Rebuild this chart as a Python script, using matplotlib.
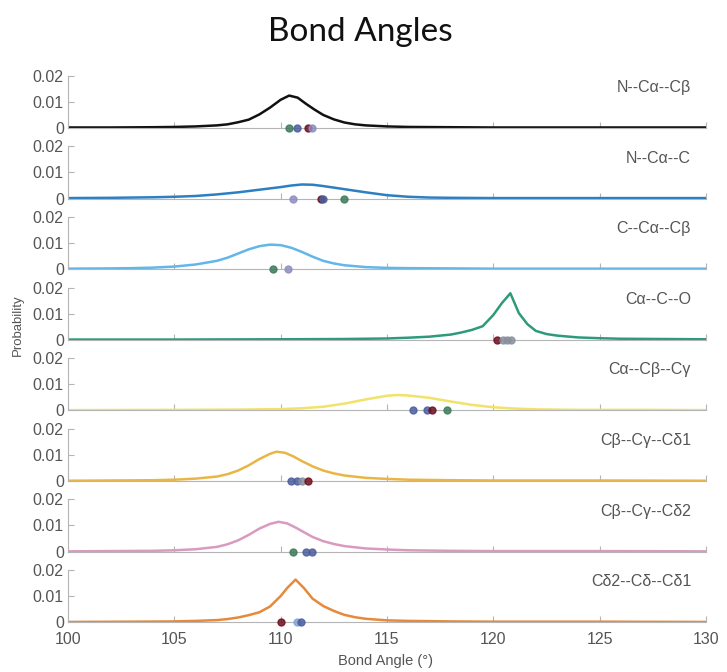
import matplotlib
matplotlib.use("Agg")
from matplotlib import pyplot as plt

plt.rcParams['font.family'] = ['Liberation Sans', 'DejaVu Sans']

labels = ["N--C\u03b1--C\u03b2", "N--C\u03b1--C", "C--C\u03b1--C\u03b2", "C\u03b1--C--O",
          "C\u03b1--C\u03b2--C\u03b3", "C\u03b2--C\u03b3--C\u03b41", "C\u03b2--C\u03b3--C\u03b42",
          "C\u03b42--C\u03b4--C\u03b41"]
line_colors = ["#111111", "#2d7fc1", "#62b6e8", "#2e9a7c", "#f1e26a", "#e9b646", "#d99ac0", "#e68a3a"]

# histogram outlines (angle, probability)
x_ncacb = [100, 102, 104, 105, 106, 106.5, 107, 107.5, 108, 108.5, 109, 109.5, 110, 110.4, 110.8,
           111.2, 111.6, 112, 112.5, 113, 113.5, 114, 115, 116, 118, 120, 125, 130]
y_ncacb = [.0002, .0002, .0003, .0004, .0006, .0008, .0010, .0014, .0022, .0032, .0052, .0078, .0108,
           .0124, .0116, .0092, .0070, .0050, .0033, .0021, .0014, .0010, .0006, .0004, .0003, .0002,
           .0002, .0002]

x_ncac = [100, 102, 104, 105, 106, 107, 108, 109, 110, 110.5, 111, 111.5, 112, 113, 114, 115, 116,
          117, 118, 120, 125, 130]
y_ncac = [.0002, .0003, .0005, .0007, .0010, .0016, .0024, .0034, .0044, .0050, .0054, .0053, .0048,
          .0036, .0024, .0013, .0007, .0004, .0003, .0002, .0002, .0002]

x_ccacb = [100, 102, 103, 104, 105, 106, 107, 107.5, 108, 108.5, 109, 109.5, 110, 110.5, 111, 111.5,
           112, 112.5, 113, 114, 115, 116, 118, 120, 125, 130]
y_ccacb = [.0002, .0003, .0004, .0006, .0010, .0018, .0032, .0044, .0060, .0076, .0088, .0094, .0092,
           .0082, .0066, .0048, .0032, .0022, .0015, .0008, .0005, .0004, .0003, .0002, .0002, .0002]

x_caco = [100, 105, 110, 113, 115, 116, 117, 118, 118.5, 119, 119.5, 120, 120.4, 120.8, 121.2, 121.6,
          122, 122.5, 123, 124, 125, 126, 128, 130]
y_caco = [.0001, .0001, .0002, .0003, .0005, .0008, .0012, .0020, .0028, .0038, .0052, .0095, .0140,
          .0178, .0102, .0060, .0034, .0022, .0016, .0009, .0006, .0004, .0003, .0002]

x_cacbcg = [100, 105, 108, 110, 111, 112, 113, 114, 115, 115.5, 116, 117, 118, 119, 120, 121, 122,
            124, 127, 130]
y_cacbcg = [.0001, .0002, .0003, .0005, .0008, .0014, .0026, .0042, .0056, .0059, .0057, .0048, .0034,
            .0021, .0012, .0007, .0004, .0002, .0002, .0001]

x_cbcgcd1 = [100, 102, 104, 105, 106, 107, 107.5, 108, 108.5, 109, 109.5, 109.8, 110.2, 110.6, 111,
             111.5, 112, 112.5, 113, 114, 115, 116, 118, 120, 125, 130]
y_cbcgcd1 = [.0001, .0002, .0003, .0005, .0009, .0017, .0026, .0040, .0060, .0084, .0104, .0112, .0108,
             .0094, .0076, .0056, .0040, .0029, .0021, .0012, .0008, .0005, .0003, .0002, .0002, .0001]

x_cbcgcd2 = [100, 102, 104, 105, 106, 107, 107.5, 108, 108.5, 109, 109.5, 109.9, 110.3, 110.7, 111.1,
             111.5, 112, 112.5, 113, 114, 115, 116, 118, 120, 125, 130]
y_cbcgcd2 = [.0001, .0002, .0003, .0005, .0009, .0018, .0028, .0043, .0064, .0088, .0106, .0114, .0108,
             .0092, .0074, .0056, .0040, .0029, .0021, .0012, .0008, .0005, .0003, .0002, .0002, .0001]

x_cdcdcd = [100, 103, 105, 106, 107, 107.5, 108, 108.5, 109, 109.5, 110, 110.3, 110.7, 111.1, 111.5,
            112, 112.5, 113, 113.5, 114, 115, 116, 118, 120, 125, 130]
y_cdcdcd = [.0001, .0002, .0003, .0005, .0008, .0012, .0018, .0027, .0038, .0060, .0100, .0130, .0163,
            .0130, .0090, .0062, .0043, .0028, .0019, .0013, .0007, .0005, .0003, .0002, .0002, .0001]

curves_x = [x_ncacb, x_ncac, x_ccacb, x_caco, x_cacbcg, x_cbcgcd1, x_cbcgcd2, x_cdcdcd]
curves_y = [y_ncacb, y_ncac, y_ccacb, y_caco, y_cacbcg, y_cbcgcd1, y_cbcgcd2, y_cdcdcd]

# reference angles shown as dots on the zero line
green, blue, dred, lilac, grey, lblue = "#3d7a5a", "#4b5e9c", "#6e0f1e", "#8e8cc0", "#8a8f9e", "#7fa6d6"
dot_x = [[110.39, 110.77, 111.28, 111.47],
         [110.58, 111.9, 112.0, 112.98],
         [109.64, 110.34],
         [120.17, 120.45, 120.65, 120.85],
         [116.2, 116.88, 117.1, 117.8],
         [110.5, 110.75, 111.0, 111.3],
         [110.6, 111.2, 111.45],
         [110.0, 110.75, 110.95]]
dot_c = [[green, blue, dred, lilac],
         [lilac, dred, blue, green],
         [green, lilac],
         [dred, grey, grey, grey],
         [blue, blue, dred, green],
         [blue, blue, grey, dred],
         [green, blue, blue],
         [dred, lblue, blue]]

fig = plt.figure(figsize=(7.27, 6.72), dpi=100)
W, H = 727, 672
left, right = 68 / W, 706 / W
step = 70.6
ink = "#555555"
axis_grey = "#b5b5b5"

for i in range(8):
    zero_px = 128 + i * step
    ax = fig.add_axes([left, (H - zero_px) / H, right - left, step / H])
    ax.patch.set_alpha(0)
    ax.plot(curves_x[i], curves_y[i], color=line_colors[i], linewidth=1.8)
    for xv, c in zip(dot_x[i], dot_c[i]):
        ax.plot(xv, 0, 'o', color=c, markersize=5, alpha=0.85, clip_on=False, zorder=5)
    ax.set_xlim(100, 130)
    ax.set_ylim(0, 0.027)
    for s in ['top', 'right']:
        ax.spines[s].set_visible(False)
    ax.spines['left'].set_bounds(0, 0.02)
    ax.spines['left'].set_color(axis_grey)
    ax.spines['bottom'].set_color(axis_grey)
    ax.set_yticks([0, 0.01, 0.02])
    ax.set_yticklabels(["0", "0.01", "0.02"])
    ax.set_xticks(range(100, 131, 5))
    ax.tick_params(direction='in', length=4, color=axis_grey, labelcolor=ink, labelsize=11.5, pad=3)
    ax.tick_params(axis='x', pad=7)
    if i < 7:
        ax.set_xticklabels([])
    ax.text(129.3, 0.0155, labels[i], ha='right', va='center', fontsize=11.5, color=ink)

fig.text(360 / W, 1 - 32 / H, "Bond Angles", ha='center', va='center', fontsize=24,
         family=['Lato', 'DejaVu Sans'], color="#111111")
fig.text(18 / W, 1 - 325 / H, "Probability", rotation=90, ha='center', va='center',
         fontsize=9.5, color=ink)
fig.text(386 / W, 1 - 661 / H, "Bond Angle (\u00b0)", ha='center', va='center',
         fontsize=10.5, color=ink)

fig.savefig("out.png", dpi=100)
